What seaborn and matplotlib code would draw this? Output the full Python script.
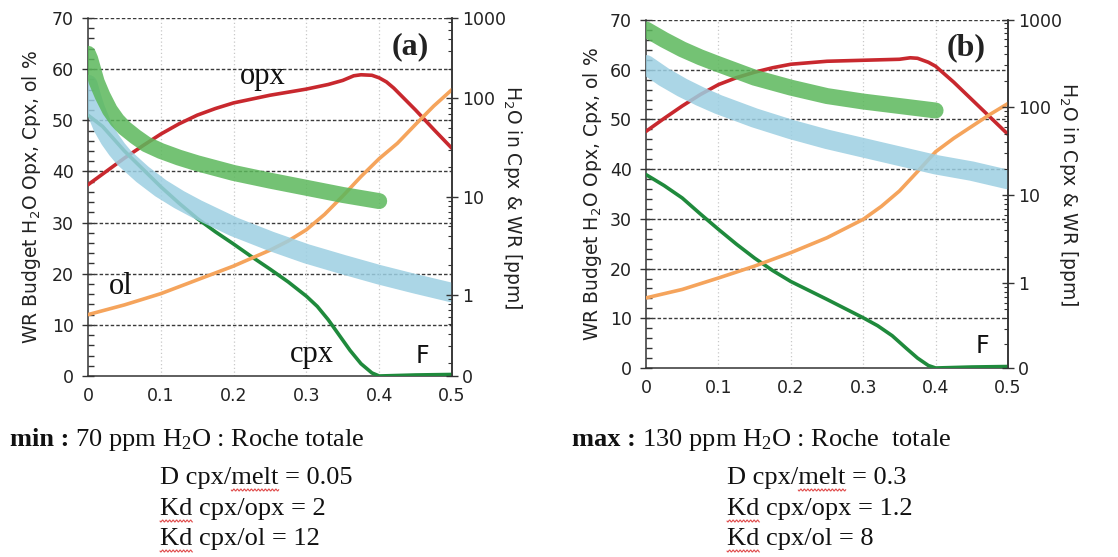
import numpy as np
import pandas as pd
import matplotlib
matplotlib.use('Agg')
import matplotlib.pyplot as plt
from matplotlib.ticker import MultipleLocator, LogLocator, NullFormatter
from matplotlib.font_manager import FontProperties
from matplotlib.lines import Line2D
import seaborn as sns

# ---- panel (a): min ----
f_opx_a = [0, 0.025, 0.05, 0.075, 0.1, 0.125, 0.15, 0.175, 0.2, 0.25, 0.3, 0.33, 0.35,
           0.365, 0.375, 0.39, 0.4, 0.41, 0.42, 0.45, 0.475, 0.5]
opx_a = [37.4, 40, 42.6, 45, 47.3, 49.3, 51, 52.3, 53.4, 54.9, 56.1, 57, 57.8,
         58.7, 58.9, 58.8, 58.3, 57.5, 56.3, 52, 48.2, 44.5]
f_cpx_a = [0, 0.02, 0.05, 0.075, 0.1, 0.125, 0.15, 0.175, 0.2, 0.225, 0.25, 0.275, 0.3,
           0.315, 0.33, 0.345, 0.36, 0.375, 0.39, 0.4, 0.45, 0.5]
cpx_a = [51, 48.8, 44, 40.5, 37, 33.8, 30.8, 28.2, 25.8, 23.3, 20.9, 18.4, 15.6,
         13.6, 11, 8, 5, 2.4, 0.6, 0, 0.2, 0.3]
f_ol_a = [0, 0.05, 0.1, 0.15, 0.2, 0.25, 0.275, 0.3, 0.325, 0.35, 0.375, 0.4, 0.425,
          0.45, 0.475, 0.5]
ol_a = [12, 13.9, 16.1, 18.8, 21.5, 24.6, 26.4, 28.6, 31.6, 35.2, 39, 42.5, 45.5,
        49.2, 52.8, 56]
f_cpxw_a = [0, 0.003, 0.007, 0.012, 0.02, 0.03, 0.04, 0.05, 0.065, 0.08, 0.1, 0.125,
            0.15, 0.2, 0.25, 0.3, 0.35, 0.4]
cpxw_a = [63, 62, 60, 57.5, 54.8, 52, 50, 48.5, 46.8, 45.3, 44, 42.7,
          41.6, 39.7, 38.2, 36.8, 35.4, 34.2]
f_wr_a = [0, 0.005, 0.01, 0.02, 0.03, 0.04, 0.05, 0.075, 0.1, 0.125, 0.15, 0.2, 0.25,
          0.3, 0.35, 0.4, 0.45, 0.5]
wr_a = [57, 54.5, 52.3, 48.8, 46.3, 44.3, 42.6, 39.4, 36.7, 34.5, 32.6, 29.2, 26.4,
        23.9, 21.8, 19.8, 18, 16.3]

# ---- panel (b): max ----
f_opx_b = [0, 0.025, 0.05, 0.075, 0.1, 0.125, 0.15, 0.175, 0.2, 0.25, 0.3, 0.35, 0.365,
           0.375, 0.39, 0.4, 0.425, 0.45, 0.475, 0.5]
opx_b = [47.6, 50.2, 52.7, 55, 57, 58.4, 59.5, 60.4, 61.1, 61.7, 61.9, 62.1, 62.4,
         62.3, 61.5, 60.7, 57.5, 54, 50.5, 47]
f_cpx_b = [0, 0.025, 0.05, 0.075, 0.1, 0.125, 0.15, 0.175, 0.2, 0.25, 0.3, 0.32, 0.34,
           0.36, 0.375, 0.39, 0.4, 0.45, 0.5]
cpx_b = [38.9, 36.7, 34.2, 31, 27.9, 24.9, 22.1, 19.6, 17.4, 13.8, 10.1, 8.5, 6.5,
         3.9, 2, 0.5, 0, 0.2, 0.3]
f_ol_b = [0, 0.05, 0.1, 0.15, 0.2, 0.25, 0.3, 0.325, 0.35, 0.375, 0.4, 0.425, 0.45,
          0.475, 0.5]
ol_b = [14.1, 15.8, 18.1, 20.5, 23.2, 26.2, 29.9, 32.5, 35.6, 39.5, 43.5, 46.2, 48.6,
        51, 53.2]
f_cpxw_b = [0, 0.025, 0.05, 0.075, 0.1, 0.15, 0.2, 0.25, 0.3, 0.35, 0.4]
cpxw_b = [68.1, 66, 64.1, 62.5, 61.1, 58.4, 56.4, 54.7, 53.6, 52.7, 51.8]
f_wr_b = [0, 0.025, 0.05, 0.075, 0.1, 0.15, 0.2, 0.25, 0.3, 0.35, 0.4, 0.45, 0.5]
wr_b = [61, 58.5, 56.4, 54.6, 53, 50.3, 48, 46, 44.3, 42.6, 40.9, 39.6, 37.9]

right_ticks = ['0', '1', '10', '100', '1000']

sns.set_style('white')
plt.rcParams['font.family'] = ['DejaVu Sans']
plt.rcParams['mathtext.default'] = 'regular'

W, H = 1118, 557
fig = plt.figure(figsize=(W / 100, H / 100), dpi=100)

RED = '#c8282e'
DGREEN = '#1f8a3c'
ORANGE = '#f5a45c'
LGREEN = '#5cb85c'
LBLUE = '#9ccfe2'
AXC = '#333333'
serif = 'Liberation Serif'


def panel(rect, lines, bands, rlim, label, fpos, lblx, rlblx):
    ax = fig.add_axes(rect)
    ax.set_xlim(0, 0.5)
    ax.set_ylim(0, 70)
    for fx, fy, c in lines:
        sns.lineplot(x=fx, y=fy, ax=ax, color=c, linewidth=2.6, zorder=3)
    for fx, fy, c, lw in bands:
        sns.lineplot(x=fx, y=fy, ax=ax, color=c, linewidth=lw, alpha=0.85,
                     solid_capstyle='round', solid_joinstyle='round', zorder=4)
    ax.set_xlabel('')
    ax.set_ylabel('')
    ax.set_xticks(np.arange(0, 0.51, 0.1))
    ax.set_xticklabels(['0', '0.1', '0.2', '0.3', '0.4', '0.5'])
    ax.xaxis.set_minor_locator(MultipleLocator(0.02))
    ax.set_yticks(range(0, 71, 10))
    ax.yaxis.set_minor_locator(MultipleLocator(2))
    ax.tick_params(which='major', direction='inout', length=8, width=1, color=AXC,
                   labelsize=12.5, labelcolor='#222222', pad=6)
    ax.tick_params(which='minor', direction='in', length=4, width=1, color=AXC)
    ax.tick_params(axis='x', pad=4)
    ax.grid(False)
    for v in range(10, 71, 10):
        ax.axhline(v, color='#3a3a3a', lw=1.0, ls=(0, (2.5, 1.5)), zorder=1)
    for v in [0.1, 0.2, 0.3, 0.4]:
        ax.axvline(v, color='#c8c8c8', lw=0.9, ls=(0, (1, 2)), zorder=1)
    ax.spines['top'].set_visible(False)
    for s in ['left', 'bottom', 'right']:
        ax.spines[s].set_color(AXC)
        ax.spines[s].set_linewidth(1.1)

    ax2 = ax.twinx()
    ax2.set_yscale('log')
    ax2.set_ylim(*rlim)
    ax2.set_yticks([rlim[0], 1, 10, 100, rlim[1]])
    ax2.set_yticklabels(right_ticks)
    ax2.yaxis.set_minor_locator(LogLocator(base=10, subs=np.arange(2, 10), numticks=20))
    ax2.yaxis.set_minor_formatter(NullFormatter())
    ax2.tick_params(which='major', direction='inout', length=8, width=1, color=AXC,
                    labelsize=12.5, labelcolor='#222222', pad=3)
    ax2.tick_params(which='minor', direction='in', length=3, width=0.8, color=AXC)
    ax2.grid(False)
    for s in ['top', 'left', 'bottom']:
        ax2.spines[s].set_visible(False)
    ax2.spines['right'].set_color(AXC)
    ax2.spines['right'].set_linewidth(1.1)

    ax.text(lblx, 0.5, 'WR Budget H$_2$O Opx, Cpx, ol %', transform=ax.transAxes,
            rotation=90, ha='center', va='center', fontsize=13.5, color='#222222')
    ax.text(rlblx, 0.5, 'H$_2$O in Cpx & WR [ppm]', transform=ax.transAxes,
            rotation=270, ha='center', va='center', fontsize=13.5, color='#222222')
    ax.text(fpos[0], fpos[1], label, transform=ax.transAxes, ha='center', va='center',
            fontsize=23, fontweight='bold', family=serif, color='#222222')
    return ax


ax_a = panel([88 / W, 1 - 376 / H, 364 / W, 358 / H],
             [(f_opx_a, opx_a, RED), (f_cpx_a, cpx_a, DGREEN), (f_ol_a, ol_a, ORANGE)],
             [(f_wr_a, wr_a, LBLUE, 14), (f_cpxw_a, cpxw_a, LGREEN, 11.5)],
             (0.149, 657), '(a)', (0.885, 0.92), -0.155, 1.165)
ax_b = panel([646 / W, 1 - 368 / H, 362 / W, 348 / H],
             [(f_opx_b, opx_b, RED), (f_cpx_b, cpx_b, DGREEN), (f_ol_b, ol_b, ORANGE)],
             [(f_wr_b, wr_b, LBLUE, 14), (f_cpxw_b, cpxw_b, LGREEN, 11.5)],
             (0.108, 980), '(b)', (0.885, 0.92), -0.147, 1.166)

# curve names in panel (a)
ax_a.text(0.24, 58.5, 'opx', fontsize=22, family=serif, ha='center', va='center', color='#111111')
ax_a.text(0.045, 17.5, 'ol', fontsize=22, family=serif, ha='center', va='center', color='#111111')
ax_a.text(0.307, 4.2, 'cpx', fontsize=22, family=serif, ha='center', va='center', color='#111111')
ax_a.text(0.46, 4, 'F', fontsize=17, ha='center', va='center', color='#111111')
ax_b.text(0.465, 4.5, 'F', fontsize=17, ha='center', va='center', color='#111111')

# parameter captions under the panels
fs = 19
renderer = fig.canvas.get_renderer()
fp = FontProperties(family=serif, size=fs)
fpb = FontProperties(family=serif, size=fs, weight='bold')


def textw(s, prop):
    w, h, d = renderer.get_text_width_height_descent(s, prop, ismath=False)
    return w


def squiggle(x0, x1, y):
    xs = np.arange(x0, x1 + 0.5, 0.5)
    ys = y + 1.0 * np.sin((xs - x0) * 2 * np.pi / 3.5)
    fig.add_artist(Line2D(xs / W, 1 - ys / H, transform=fig.transFigure,
                          color='#e05050', lw=0.8))


def caption(x0, xi, head, rest, lines, ys):
    fig.text(x0 / W, 1 - ys[0] / H, head, fontproperties=fpb, va='center', color='#111111')
    w = textw(head, fpb)
    fig.text((x0 + w) / W, 1 - ys[0] / H, rest, fontproperties=fp, va='center', color='#111111')
    for (pre, word, post), y in zip(lines, ys[1:]):
        fig.text(xi / W, 1 - y / H, pre + word + post, fontproperties=fp, va='center',
                 color='#111111')
        a = xi + textw(pre, fp) if pre else xi
        squiggle(a, a + textw(word, fp), y + 12)


caption(10, 160, 'min :', ' 70 ppm H$_2$O : Roche totale',
        [('D cpx/', 'melt', ' = 0.05'), ('', 'Kd', ' cpx/opx = 2'), ('', 'Kd', ' cpx/ol = 12')],
        [440, 478, 509, 539])
caption(572, 727, 'max :', ' 130 ppm H$_2$O : Roche  totale',
        [('D cpx/', 'melt', ' = 0.3'), ('', 'Kd', ' cpx/opx = 1.2'), ('', 'Kd', ' cpx/ol = 8')],
        [440, 478, 509, 539])

fig.savefig('out.png', dpi=100)
